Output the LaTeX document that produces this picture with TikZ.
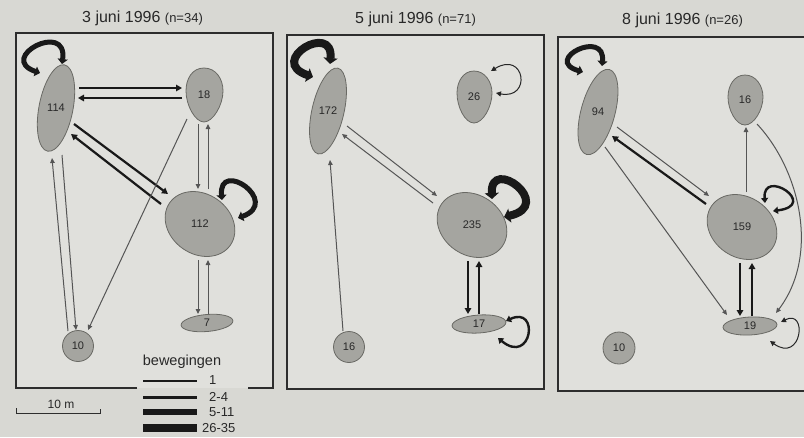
\documentclass[tikz,border=0pt]{standalone}
\usepackage{fontspec}
\setmainfont{Liberation Sans}
\usetikzlibrary{shapes.geometric,arrows.meta,calc}
\definecolor{bgc}{RGB}{216,216,211}
\definecolor{panelc}{RGB}{224,224,220}
\definecolor{blobfill}{RGB}{165,165,160}
\definecolor{blobline}{RGB}{105,105,100}
\definecolor{framec}{RGB}{45,45,45}
\definecolor{thinc}{RGB}{85,85,85}
\definecolor{txtc}{RGB}{40,40,40}
\begin{document}
\begin{tikzpicture}[x=1pt,y=-1pt,
  blob/.style={ellipse, draw=blobline, fill=blobfill, line width=0.8pt, inner sep=0pt},
  eggst/.style={draw=blobline, fill=blobfill, line width=0.8pt},
  lab/.style={font=\fontsize{11}{13}\selectfont, text=txtc},
  frame/.style={draw=framec, line width=1.3pt},
  wone/.style={draw=thinc, line width=1pt, -{Triangle[length=5pt,width=4.5pt]}},
  wtwo/.style={draw=black!90, line width=2.2pt, -{Triangle[length=6pt,width=6.5pt]}},
  lpone/.style={draw=black!85, line width=1pt, {Triangle[length=5pt,width=5pt]}-{Triangle[length=5pt,width=5pt]}},
  lptwo/.style={draw=black!90, line width=2.4pt, {Triangle[length=5pt,width=7pt]}-{Triangle[length=5pt,width=7pt]}},
  lpfive/.style={draw=black!90, line width=5pt, {Triangle[length=5pt,width=10pt]}-{Triangle[length=5pt,width=10pt]}},
  lpbig/.style={draw=black!90, line width=8pt, {Triangle[length=6pt,width=14pt]}-{Triangle[length=6pt,width=14pt]}},
  bar/.style={draw=black!90, line cap=butt},
  ttl/.style={font=\fontsize{16}{18}\selectfont, text=txtc, anchor=west, inner sep=0pt},
  lgd/.style={font=\fontsize{13}{15}\selectfont, text=txtc, anchor=west, inner sep=0pt}
]
\useasboundingbox (0,0) rectangle (804,437);
\fill[bgc] (0,0) rectangle (804,437);

% panels
\fill[panelc] (16,33) rectangle (273,388);
\draw[frame] (137,388) -- (16,388) -- (16,33) -- (273,33) -- (273,388) -- (248,388);
\fill[panelc] (287,35) rectangle (544,389);
\draw[frame] (287,35) rectangle (544,389);
\fill[panelc] (558,37) rectangle (804,391);
\draw[frame] (804,37) -- (558,37) -- (558,391) -- (804,391);

% titles
\node[ttl] (t1) at (82,18) {3 juni 1996 {\fontsize{13}{15}\selectfont(n=34)}};
\node[ttl] (t2) at (355,19) {5 juni 1996 {\fontsize{13}{15}\selectfont(n=71)}};
\node[ttl] (t3) at (622,20) {8 juni 1996 {\fontsize{13}{15}\selectfont(n=26)}};

% ---------- panel 1 ----------
\node[blob, minimum width=88pt, minimum height=34pt, rotate=79] (n114) at (56,108) {};
\node[lab] at (n114) {114};
\coordinate (n18) at (204,95);
\draw[eggst, shift={(n18)}] (0,-27) .. controls (12,-27) and (19,-16) .. (19,-4) .. controls (19,10) and (9,27) .. (0,27) .. controls (-9,27) and (-18,10) .. (-18,-4) .. controls (-18,-16) and (-12,-27) .. (0,-27) -- cycle;
\node[lab] at (n18) {18};
\node[blob, minimum width=74pt, minimum height=60pt, rotate=-35] (n112) at (200,224) {};
\node[lab] at (n112) {112};
\node[blob, minimum width=52pt, minimum height=17pt, rotate=5] (n7) at (207,323) {};
\node[lab] at (n7) {7};
\node[blob, circle, minimum size=31pt] (n10) at (78,346) {};
\node[lab] at (n10) {10};

\draw[wtwo] ($(n114)+(23,-20)$) -- ($(n18)+(-22,-7)$);
\draw[wtwo] ($(n18)+(-22,3)$) -- ($(n114)+(22,-10)$);
\draw[wtwo] ($(n114)+(18,16)$) -- ($(n112)+(-32,-30)$);
\draw[wtwo] ($(n112)+(-39,-20)$) -- ($(n114)+(15,26)$);
\draw[wone] ($(n18)+(-6,29)$) -- ($(n112)+(-2,-35)$);
\draw[wone] ($(n112)+(8,-35)$) -- ($(n18)+(4,29)$);
\draw[wone] ($(n18)+(-17,24)$) -- ($(n10)+(10,-16)$);
\draw[wone] ($(n114)+(6,47)$) -- ($(n10)+(-2,-16)$);
\draw[wone] ($(n10)+(-10,-15)$) -- ($(n114)+(-4,50)$);
\draw[wone] ($(n112)+(-2,36)$) -- ($(n7)+(-9,-9)$);
\draw[wone] ($(n7)+(1,-9)$) -- ($(n112)+(8,36)$);
\begin{scope}[shift={(n114)}]
  \draw[lpfive] (6,-44) .. controls (12,-88) and (-60,-50) .. (-16,-35);
\end{scope}
\begin{scope}[shift={(n112)}]
  \draw[lpfive] (22,-24) .. controls (18,-66) and (82,-22) .. (38,-6);
\end{scope}

% legend and scale
\node[font=\fontsize{14.5}{16}\selectfont, text=txtc] (lg) at (182,362) {bewegingen};
\draw[bar, line width=1.4pt] (143,381) -- (197,381);
\draw[bar, line width=3pt] (143,397) -- (197,397);
\draw[bar, line width=5.5pt] (143,412) -- (197,412);
\draw[bar, line width=8.5pt] (143,428) -- (197,428);
\node[lgd] (l1) at (209,380) {1};
\node[lgd] (l2) at (209,397) {2-4};
\node[lgd] (l3) at (209,412) {5-11};
\node[lgd] (l4) at (202,428) {26-35};
\draw[framec, line width=1pt] (16,408) -- (16,413) -- (100,413) -- (100,409);
\node[font=\fontsize{12}{14}\selectfont, text=txtc] (sc) at (61,404) {10 m};

% ---------- panel 2 ----------
\node[blob, minimum width=88pt, minimum height=32pt, rotate=77] (n172) at (328,111) {};
\node[lab] at (n172) {172};
\coordinate (n26) at (474,97);
\draw[eggst, shift={(n26)}] (0,-26) .. controls (11,-26) and (18,-15) .. (18,-4) .. controls (18,10) and (9,26) .. (0,26) .. controls (-9,26) and (-17,10) .. (-17,-4) .. controls (-17,-15) and (-11,-26) .. (0,-26) -- cycle;
\node[lab] at (n26) {26};
\node[blob, minimum width=74pt, minimum height=60pt, rotate=-35] (n235) at (472,225) {};
\node[lab] at (n235) {235};
\node[blob, minimum width=54pt, minimum height=18pt, rotate=4] (n17) at (479,324) {};
\node[lab] at (n17) {17};
\node[blob, circle, minimum size=31pt] (n16b) at (349,347) {};
\node[lab] at (n16b) {16};

\draw[wone] ($(n172)+(19,15)$) -- ($(n235)+(-35,-29)$);
\draw[wone] ($(n235)+(-39,-22)$) -- ($(n172)+(14,23)$);
\draw[wone] ($(n16b)+(-6,-16)$) -- ($(n172)+(2,49)$);
\draw[wtwo] ($(n235)+(-4,36)$) -- ($(n17)+(-11,-10)$);
\draw[wtwo] ($(n17)+(0,-10)$) -- ($(n235)+(7,36)$);
\begin{scope}[shift={(n172)}]
  \draw[lpbig] (2,-47) .. controls (6,-90) and (-62,-50) .. (-15,-34);
\end{scope}
\begin{scope}[shift={(n26)}]
  \draw[lpone] (17,-26) .. controls (51,-47) and (58,3) .. (22,-4);
\end{scope}
\begin{scope}[shift={(n235)}]
  \draw[lpbig] (20,-26) .. controls (18,-70) and (84,-20) .. (32,-8);
\end{scope}
\begin{scope}[shift={(n17)}]
  \draw[lptwo] (27,-3) .. controls (61,-19) and (53,42) .. (19,14);
\end{scope}

% ---------- panel 3 ----------
\node[blob, minimum width=88pt, minimum height=34pt, rotate=75] (n94) at (598,112) {};
\node[lab] at (n94) {94};
\coordinate (n16c) at (745,100);
\draw[eggst, shift={(n16c)}] (0,-25) .. controls (11,-25) and (18,-14) .. (18,-3) .. controls (18,10) and (9,25) .. (0,25) .. controls (-9,25) and (-17,10) .. (-17,-3) .. controls (-17,-14) and (-11,-25) .. (0,-25) -- cycle;
\node[lab] at (n16c) {16};
\node[blob, minimum width=74pt, minimum height=60pt, rotate=-35] (n159) at (742,227) {};
\node[lab] at (n159) {159};
\node[blob, minimum width=54pt, minimum height=18pt, rotate=3] (n19) at (750,326) {};
\node[lab] at (n19) {19};
\node[blob, circle, minimum size=32pt] (n10c) at (619,348) {};
\node[lab] at (n10c) {10};

\draw[wone] ($(n94)+(19,15)$) -- ($(n159)+(-33,-31)$);
\draw[wtwo] ($(n159)+(-36,-23)$) -- ($(n94)+(14,24)$);
\draw[wone] ($(n94)+(7,35)$) -- ($(n19)+(-23,-11)$);
\draw[wone] ($(n159)+(4,-35)$) -- ($(n16c)+(1,27)$);
\draw[wone] ($(n16c)+(12,24)$) .. controls ($(n16c)+(55,70)$) and ($(n16c)+(75,155)$) .. ($(n19)+(26,-13)$);
\draw[wtwo] ($(n159)+(-2,36)$) -- ($(n19)+(-10,-10)$);
\draw[wtwo] ($(n19)+(2,-10)$) -- ($(n159)+(10,36)$);
\begin{scope}[shift={(n94)}]
  \draw[lpfive] (4,-46) .. controls (8,-84) and (-56,-52) .. (-15,-40);
\end{scope}
\begin{scope}[shift={(n159)}]
  \draw[lptwo] (23,-24) .. controls (20,-60) and (78,-22) .. (31,-16);
\end{scope}
\begin{scope}[shift={(n19)}]
  \draw[lpone] (31,-4) .. controls (58,-18) and (52,38) .. (20,15);
\end{scope}
\end{tikzpicture}
\end{document}
